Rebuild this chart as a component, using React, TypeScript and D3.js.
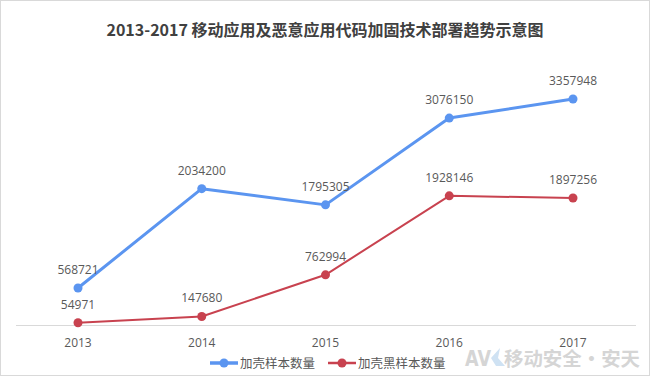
import React from "react";
import * as d3 from "d3";

const years = ["2013", "2014", "2015", "2016", "2017"];
const packedSamples = [568721, 2034200, 1795305, 3076150, 3357948];
const packedMalware = [54971, 147680, 762994, 1928146, 1897256];
const seriesNames = ["加壳样本数量", "加壳黑样本数量"];
const seriesColors = ["#5B95F0", "#C8424F"];
const title = "2013-2017 移动应用及恶意应用代码加固技术部署趋势示意图";

const W = 650;
const H = 376;

export default function App() {
  const x = d3.scalePoint<string>().domain(years).range([78, 573]);
  const y = d3.scaleLinear().domain([0, 4000000]).range([326.5, 55.5]);
  const series = [packedSamples, packedMalware];
  const widths = [3, 2];
  const line = (vals: number[]) =>
    d3
      .line<number>()
      .x((_, i) => x(years[i]) as number)
      .y((v) => y(v))(vals) as string;
  const font = "'Open Sans', 'Noto Sans CJK SC', sans-serif";
  const cjk = "'Noto Sans CJK SC', sans-serif";
  const legendX = [210, 328];
  return (
    <div style={{ position: "fixed", left: 0, top: 0 }}>
      <svg width={W} height={H} style={{ display: "block" }}>
        <rect x={0.5} y={0.5} width={W - 1} height={H - 1} fill="#fff" stroke="#D9D9D9" />
        <text x={325} y={36} textAnchor="middle" fontFamily={cjk} fontWeight="bold" fontSize={16} fill="#404040">
          {title}
        </text>
        <line x1={16} x2={636} y1={325.5} y2={325.5} stroke="#D9D9D9" />
        <g fontFamily={cjk} fontWeight="bold">
          <text x={465} y={366} fontSize={21} fontFamily="'DejaVu Sans', sans-serif" fill="#D5D5D5" textLength={26} lengthAdjust="spacingAndGlyphs">AV</text>
          <path d="M500,348 L491,358 L496,366 L505,366 L498,358 Z" fill="#CFE2F3" />
          <text x={504} y={366} fontSize={19} fill="#D5D5D5" textLength={136} lengthAdjust="spacingAndGlyphs">移动安全·安天</text>
        </g>
        {years.map((yr) => (
          <text key={yr} x={x(yr)} y={347} textAnchor="middle" fontFamily={font} fontSize={12} fill="#595959">
            {yr}
          </text>
        ))}
        {series.map((vals, si) => (
          <g key={si}>
            <path d={line(vals)} fill="none" stroke={seriesColors[si]} strokeWidth={widths[si]} strokeLinejoin="round" />
            {vals.map((v, i) => (
              <g key={i}>
                <circle cx={x(years[i])} cy={y(v)} r={4.5} fill={seriesColors[si]} />
                <text x={x(years[i])} y={y(v) - 14} textAnchor="middle" fontFamily={font} fontSize={12} fill="#595959">
                  {v}
                </text>
              </g>
            ))}
          </g>
        ))}
        {seriesNames.map((n, i) => (
          <g key={n}>
            <line x1={legendX[i]} x2={legendX[i] + 28} y1={363} y2={363} stroke={seriesColors[i]} strokeWidth={widths[i] + 0.5} />
            <circle cx={legendX[i] + 14} cy={363} r={4.5} fill={seriesColors[i]} />
            <text x={legendX[i] + 30} y={367.5} fontFamily={cjk} fontSize={12.5} fill="#595959">
              {n}
            </text>
          </g>
        ))}
      </svg>
    </div>
  );
}
